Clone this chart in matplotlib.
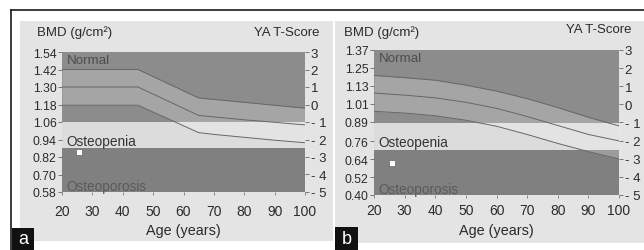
import matplotlib
matplotlib.use("Agg")
import matplotlib.pyplot as plt
from matplotlib.patches import Rectangle
from matplotlib.transforms import Bbox, TransformedBbox

plt.rcParams["font.family"] = ["Liberation Sans", "DejaVu Sans"]

# panel a data
a_bmd_ticks = [1.54, 1.42, 1.30, 1.18, 1.06, 0.94, 0.82, 0.70, 0.58]
a_t_ticks = [3, 2, 1, 0, -1, -2, -3, -4, -5]
a_age = [20, 45, 65, 70, 80, 90, 100]
a_top = [1.42, 1.42, 1.225, 1.215, 1.195, 1.175, 1.155]
a_mid = [1.30, 1.30, 1.105, 1.095, 1.075, 1.058, 1.040]
a_low = [1.175, 1.175, 0.987, 0.975, 0.955, 0.935, 0.918]
a_normal_lim = 1.06
a_osteo_lim = 0.88
a_patient = (25.5, 0.856)

# panel b data
b_bmd_ticks = [1.37, 1.25, 1.13, 1.01, 0.89, 0.76, 0.64, 0.52, 0.40]
b_t_ticks = [3, 2, 1, 0, -1, -2, -3, -4, -5]
b_age = [20, 30, 40, 50, 60, 70, 80, 90, 100]
b_top = [1.200, 1.185, 1.168, 1.135, 1.095, 1.045, 0.985, 0.920, 0.862]
b_mid = [1.082, 1.068, 1.050, 1.020, 0.980, 0.925, 0.865, 0.805, 0.762]
b_low = [0.960, 0.948, 0.930, 0.900, 0.860, 0.805, 0.745, 0.690, 0.641]
b_normal_lim = 0.885
b_osteo_lim = 0.703
b_patient = (25.9, 0.614)

age_ticks = [20, 30, 40, 50, 60, 70, 80, 90, 100]

W, H = 644, 251
fig = plt.figure(figsize=(W / 100, H / 100), dpi=100)
fig.patch.set_facecolor("white")

bg = "#e4e4e4"
dark = "#8c8c8c"
light = "#dcdcdc"
txt = "#2b2b2b"


def px(x0, y0, x1, y1):
    # pixel box (top-left origin) -> figure fraction rect
    return [x0 / W, 1 - y1 / H, (x1 - x0) / W, (y1 - y0) / H]


def rect(x0, y0, x1, y1, color, z=0):
    l, b, w, h = px(x0, y0, x1, y1)
    fig.patches.append(Rectangle((l, b), w, h, transform=fig.transFigure,
                                 facecolor=color, edgecolor="none", zorder=z))


def ftext(x, y, s, **kw):
    fig.text(x / W, 1 - y / H, s, **kw)


# photo backgrounds
rect(20, 22, 333, 242, bg, -5)
rect(335, 22, 644, 244, bg, -5)
# frame lines
fig.add_artist(plt.Line2D([11 / W, 1], [1 - 11 / H] * 2, transform=fig.transFigure,
                          color="#1a1a1a", lw=1.2))
fig.add_artist(plt.Line2D([11 / W] * 2, [0, 1 - 11 / H], transform=fig.transFigure,
                          color="#1a1a1a", lw=1.2))


def panel(box, age, top, mid, low, bmd_ticks, t_ticks, nlim, olim, patient, clipx,
          xpad, lpad):
    ax = fig.add_axes(px(*box))
    ymin, ymax = bmd_ticks[-1], bmd_ticks[0]
    ax.set_xlim(20, 100)
    ax.set_ylim(ymin, ymax)
    ax.axhspan(nlim, ymax, color=dark, lw=0)
    ax.axhspan(olim, nlim, color=light, lw=0)
    ax.axhspan(ymin, olim, color="#808080", lw=0)
    ax.fill_between(age, low, top, color="white", alpha=0.22, lw=0)
    for c in (top, mid, low):
        ax.plot(age, c, color="#666666", lw=0.7)
    ax.plot(*patient, marker="s", ms=4.5, mfc="white", mec="#666666", mew=0.5)

    for s in ax.spines.values():
        s.set_visible(False)
    ax.set_yticks(bmd_ticks)
    ax.set_yticklabels([f"{v:.2f}" for v in bmd_ticks])
    ax.set_xticks(age_ticks)
    ax.tick_params(axis="y", length=3, width=0.6, color="#666666", labelsize=8.8,
                   labelcolor=txt, pad=1)
    ax.tick_params(axis="x", length=2, width=0.6, color="#777777", labelsize=10,
                   labelcolor=txt, pad=xpad)
    ax.set_xlabel("Age (years)", fontsize=10.4, color=txt, labelpad=lpad)

    ax2 = ax.twinx()
    ax2.set_ylim(-5, 3)
    ax2.set_yticks(t_ticks)
    ax2.set_yticklabels([str(t) if t >= 0 else "- " + str(-t) for t in t_ticks])
    for s in ax2.spines.values():
        s.set_visible(False)
    ax2.tick_params(axis="y", length=3, width=0.6, color="#666666", labelsize=9.5,
                    labelcolor=txt, pad=1)
    cb = TransformedBbox(Bbox([[0, 0], [clipx / W, 1]]), fig.transFigure)
    for lab in ax2.get_yticklabels():
        lab.set_clip_on(True)
        lab.set_clip_box(cb)

    ax.text(21.5, ymax - 0.012, "Normal", fontsize=9.6, color="#4d4d4d", va="top")
    ax.text(21.5, olim + 0.004, "Osteopenia", fontsize=9.8, color="#333333", va="bottom")
    ax.text(21.5, ymin - 0.004, "Osteoporosis", fontsize=9.8, color="#5a5a5a", va="bottom")
    return ax


panel((62, 53, 305, 193), a_age, a_top, a_mid, a_low, a_bmd_ticks, a_t_ticks,
      a_normal_lim, a_osteo_lim, a_patient, 333, 7, 3)
panel((374, 51, 619, 196), b_age, b_top, b_mid, b_low, b_bmd_ticks, b_t_ticks,
      b_normal_lim, b_osteo_lim, b_patient, 644, 4, 4)

# axis titles
ftext(37, 33, "BMD (g/cm²)", fontsize=9.5, color=txt, ha="left", va="center")
ftext(320, 33, "YA T-Score", fontsize=9.5, color=txt, ha="right", va="center")
ftext(344, 33, "BMD (g/cm²)", fontsize=9.5, color=txt, ha="left", va="center")
ftext(632, 30, "YA T-Score", fontsize=9.5, color=txt, ha="right", va="center")

# panel letters
rect(12, 229, 34, 251, "#111111", 5)
ftext(23, 240, "a", color="white", fontsize=13, ha="center", va="center", zorder=6)
rect(335, 228, 358, 251, "#111111", 5)
ftext(346.5, 239.5, "b", color="white", fontsize=13, ha="center", va="center", zorder=6)

fig.savefig("out.png", dpi=100, facecolor="white")
